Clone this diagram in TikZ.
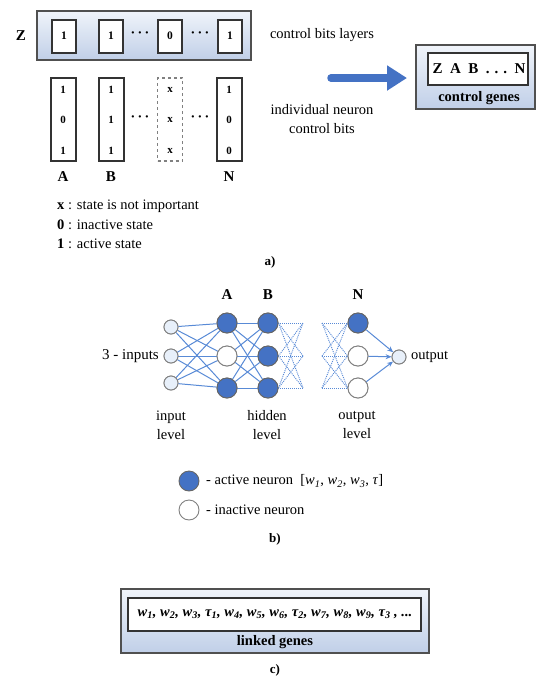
\documentclass[tikz,border=0pt]{standalone}
\usepackage{fontspec}
\setmainfont{Liberation Serif}
\usetikzlibrary{arrows.meta}
\definecolor{nblue}{RGB}{68,114,196}
\definecolor{eblue}{RGB}{88,138,214}
\definecolor{boxtop}{RGB}{240,244,250}
\definecolor{boxbot}{RGB}{192,207,232}
\definecolor{framec}{RGB}{80,80,80}
\definecolor{inpfill}{RGB}{232,240,250}
\newcommand{\fs}[1]{\fontsize{#1}{#1}\selectfont}
\begin{document}
\begin{tikzpicture}[x=1pt,y=-1pt,
  outerbox/.style={draw=framec, line width=1.4pt, top color=boxtop, bottom color=boxbot, inner sep=0pt},
  innerbox/.style={draw=black!80, line width=1.6pt, fill=white, inner sep=0pt},
  bitbox/.style={innerbox, line width=2pt, minimum width=24pt, minimum height=33pt, font=\fs{11.5}\bfseries},
  colbox/.style={innerbox, line width=2pt, minimum width=25pt, minimum height=83pt},
  dashbox/.style={draw=gray, dashed, line width=1.2pt, minimum width=25pt, minimum height=83pt, inner sep=0pt},
  bitval/.style={font=\fs{11}\bfseries, inner sep=0pt},
  dotsn/.style={font=\fs{14}\bfseries, inner sep=0pt},
  lbl/.style={font=\fs{14.5}, inner sep=0pt},
  blbl/.style={font=\fs{15}\bfseries, inner sep=0pt},
  inp/.style={circle, draw=gray, fill=inpfill, line width=0.9pt, minimum size=14pt, inner sep=0pt},
  act/.style={circle, draw=black!60, fill=nblue, line width=0.9pt, minimum size=20pt, inner sep=0pt},
  inact/.style={circle, draw=gray, fill=white, line width=0.9pt, minimum size=20pt, inner sep=0pt},
  edge/.style={eblue, line width=1pt},
  dotedge/.style={eblue, line width=0.9pt, dash pattern=on 1pt off 1pt},
]
\useasboundingbox (0,0) rectangle (540,681);

% ---------- a) ----------
\node[blbl] (zl) at (21,36) {Z};
\node[outerbox, minimum width=214pt, minimum height=49pt] (zrow) at (144,35.5) {};
\node[bitbox] (z1) at (64,36) {1};
\node[bitbox] (z2) at (111,36) {1};
\node[dotsn] (zd1) at (140,35) {·\,·\,·};
\node[bitbox] (z3) at (170,36) {0};
\node[dotsn] (zd2) at (200,35) {·\,·\,·};
\node[bitbox] (z4) at (230,36) {1};

\node[colbox] (ca) at (63,119.5) {};
\node[colbox] (cb) at (111,119.5) {};
\node[dashbox] (cx) at (170,119.5) {};
\node[colbox] (cn) at (229,119.5) {};
\foreach \nm/\xx/\va/\vb/\vc in {a/63/1/0/1, b/111/1/1/1, x/170/x/x/x, n/229/1/0/0}{
  \node[bitval] (v\nm1) at (\xx,90) {\va};
  \node[bitval] (v\nm2) at (\xx,120) {\vb};
  \node[bitval] (v\nm3) at (\xx,151) {\vc};
}
\node[dotsn] (cd1) at (140,119) {·\,·\,·};
\node[dotsn] (cd2) at (200,119) {·\,·\,·};
\node[blbl] (la) at (63,177) {A};
\node[blbl] (lb) at (111,177) {B};
\node[blbl] (ln) at (229,177) {N};

\node[lbl, anchor=west] (lg1) at (57,206) {\textbf{x} : state is not important};
\node[lbl, anchor=west] (lg2) at (57,225) {\textbf{0} : inactive state};
\node[lbl, anchor=west] (lg3) at (57,244) {\textbf{1} : active state};
\node[font=\fs{13}\bfseries, inner sep=0pt] (capa) at (270,262) {a)};

\node[lbl] (cbl) at (322,35) {control bits layers};
\node[lbl, align=center, font=\fs{14.5}\linespread{1.25}\selectfont] (incb) at (322,119) {individual neuron\\control bits};

\coordinate (arS) at (331,78);
\coordinate (arE) at (407,78);
\draw[nblue, line width=7.5pt, line cap=round, -{Triangle[length=20pt 0 0,width=24pt 0 0]}] (arS) -- (arE);

\node[outerbox, minimum width=119pt, minimum height=64pt] (cgo) at (475.5,77) {};
\node[innerbox, minimum width=100pt, minimum height=32pt] (cgi) at (478,69) {};
\node[font=\fs{15}\bfseries, inner sep=0pt] (cgt) at (479,69) {Z\enspace A\enspace B\enspace.\,\,.\,\,.\enspace N};
\node[font=\fs{14.5}\bfseries, inner sep=0pt] (cgl) at (479,98) {control genes};

% ---------- b) ----------
\node[inp] (i1) at (171,327) {};
\node[inp] (i2) at (171,356) {};
\node[inp] (i3) at (171,383) {};
\node[act] (a1) at (227,323) {};
\node[inact] (a2) at (227,356) {};
\node[act] (a3) at (227,388) {};
\node[act] (b1) at (268,323) {};
\node[act] (b2) at (268,356) {};
\node[act] (b3) at (268,388) {};
\node[act] (n1) at (358,323) {};
\node[inact] (n2) at (358,356) {};
\node[inact] (n3) at (358,388) {};
\node[inp] (out) at (399,357) {};
\coordinate (d1) at (303,323);
\coordinate (d2) at (303,356);
\coordinate (d3) at (303,388);
\coordinate (e1) at (322,323);
\coordinate (e2) at (322,356);
\coordinate (e3) at (322,388);

\foreach \s in {1,2,3}{
  \foreach \t in {1,2,3}{
    \draw[edge] (i\s) -- (a\t);
    \draw[edge] (a\s) -- (b\t);
    \draw[dotedge] (b\s.east) -- (d\t);
    \draw[dotedge] (e\s) -- (n\t.west);
  }
  \draw[edge, -{Stealth[length=6pt,width=5pt]}] (n\s) -- (out);
}
% redraw nodes on top
\foreach \nm/\st in {i1/inp,i2/inp,i3/inp,a1/act,a2/inact,a3/act,b1/act,b2/act,b3/act,n1/act,n2/inact,n3/inact,out/inp}{
  \node[\st] at (\nm) {};
}

\node[lbl, anchor=east, font=\fs{15}] (inl) at (159,356) {3 - inputs};
\node[lbl, anchor=west] (outl) at (411,357) {output};
\node[blbl] (ha) at (227,295) {A};
\node[blbl] (hb) at (268,295) {B};
\node[blbl] (hn) at (358,295) {N};
\node[lbl, align=center, font=\fs{14.5}\linespread{1.3}\selectfont] (il) at (171,425) {input\\level};
\node[lbl, align=center, font=\fs{14.5}\linespread{1.3}\selectfont] (hl) at (267,425) {hidden\\level};
\node[lbl, align=center, font=\fs{14.5}\linespread{1.3}\selectfont] (ol) at (357,425) {output\\level};

\node[act] (lga) at (189,481) {};
\node[inact] (lgi) at (189,510) {};
\node[lbl, anchor=west] (lgat) at (206,481) {- active neuron\enspace[\textit{w}\textsubscript{\textit{1}}, \textit{w}\textsubscript{\textit{2}}, \textit{w}\textsubscript{\textit{3}}, \textit{τ}]};
\node[lbl, anchor=west] (lgit) at (206,510) {- inactive neuron};
\node[font=\fs{13}\bfseries, inner sep=0pt] (capb) at (275,539) {b)};

% ---------- c) ----------
\node[outerbox, minimum width=308pt, minimum height=64pt] (lgo) at (275,621) {};
\node[innerbox, minimum width=293pt, minimum height=33pt] (lgin) at (274.5,614.5) {};
\node[font=\fs{14.5}\bfseries\itshape, inner sep=0pt] (lgtx) at (275,614) {w\textsubscript{1}, w\textsubscript{2}, w\textsubscript{3}, τ\textsubscript{1}, w\textsubscript{4}, w\textsubscript{5}, w\textsubscript{6}, τ\textsubscript{2}, w\textsubscript{7}, w\textsubscript{8}, w\textsubscript{9}, τ\textsubscript{3} , ...};
\node[font=\fs{14.5}\bfseries, inner sep=0pt] (lgl) at (275,642) {linked genes};
\node[font=\fs{13}\bfseries, inner sep=0pt] (capc) at (275,670) {c)};
\end{tikzpicture}
\end{document}
